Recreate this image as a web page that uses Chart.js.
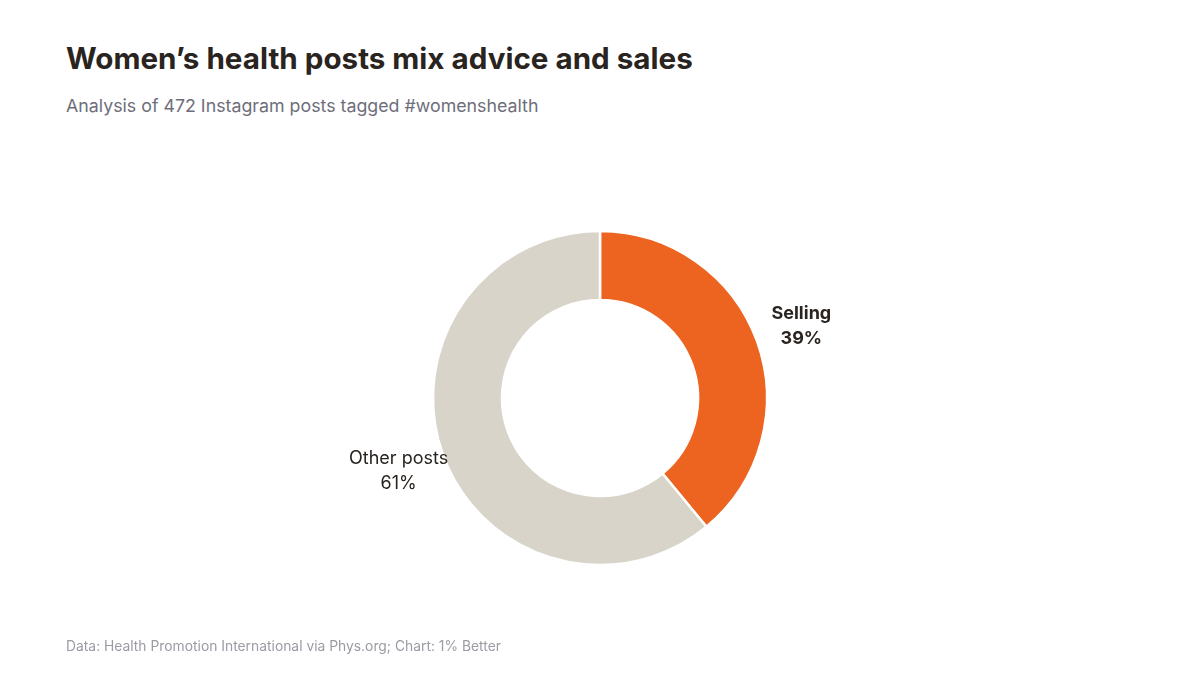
<!DOCTYPE html>
<html>
<head>
<meta charset="utf-8">
<script src="https://cdn.jsdelivr.net/npm/chart.js@4.4.0/dist/chart.umd.min.js"></script>
<style>
  html, body { margin: 0; padding: 0; background: #ffffff; }
  body { width: 1200px; height: 675px; position: relative; overflow: hidden; font-family: Inter, "Noto Sans", sans-serif; }
  #title { position: absolute; left: 66px; top: 40px; font-size: 29.6px; font-weight: 700; color: #2a2420; white-space: nowrap; }
  #subtitle { position: absolute; left: 66px; top: 95px; font-size: 17.8px; font-weight: 400; color: #6e6e7a; white-space: nowrap; }
  #footer { position: absolute; left: 66px; top: 638px; font-size: 13.85px; color: #9b9ba6; white-space: nowrap; }
  #wrap { position: absolute; left: 200px; top: 148px; width: 800px; height: 500px; }
</style>
</head>
<body>
<div id="title">Women’s health posts mix advice and sales</div>
<div id="subtitle">Analysis of 472 Instagram posts tagged #womenshealth</div>
<div id="wrap"><canvas id="c"></canvas></div>
<div id="footer">Data: Health Promotion International via Phys.org; Chart: 1% Better</div>
<script>
const categories = ["Selling", "Other posts"];
const shares = [39, 61];
const sliceColors = ["#EC6420", "#D9D4C9"];

const labelPlugin = {
  id: 'sliceLabels',
  afterDatasetsDraw(chart) {
    const ctx = chart.ctx;
    const meta = chart.getDatasetMeta(0);
    meta.data.forEach((arc, i) => {
      const mid = (arc.startAngle + arc.endAngle) / 2;
      const r = arc.outerRadius + 47;
      const x = arc.x + Math.cos(mid) * r;
      const y = arc.y + Math.sin(mid) * r + 1;
      ctx.save();
      ctx.fillStyle = '#2a2420';
      ctx.textAlign = 'center';
      ctx.textBaseline = 'middle';
      const weight = i === 0 ? '700' : '400';
      ctx.font = weight + ' 18px Inter, "Noto Sans", sans-serif';
      ctx.fillText(categories[i], x, y - 12.5);
      ctx.fillText(shares[i] + '%', x, y + 12.5);
      ctx.restore();
    });
  }
};

new Chart(document.getElementById('c'), {
  type: 'doughnut',
  data: {
    labels: categories,
    datasets: [{
      data: shares,
      backgroundColor: sliceColors,
      borderColor: '#ffffff',
      borderWidth: 2.5,
      hoverOffset: 0
    }]
  },
  options: {
    responsive: true,
    maintainAspectRatio: false,
    animation: false,
    radius: 167,
    cutout: '58.7%',
    rotation: 0,
    plugins: {
      legend: { display: false },
      tooltip: { enabled: false }
    }
  },
  plugins: [labelPlugin]
});
</script>
</body>
</html>
